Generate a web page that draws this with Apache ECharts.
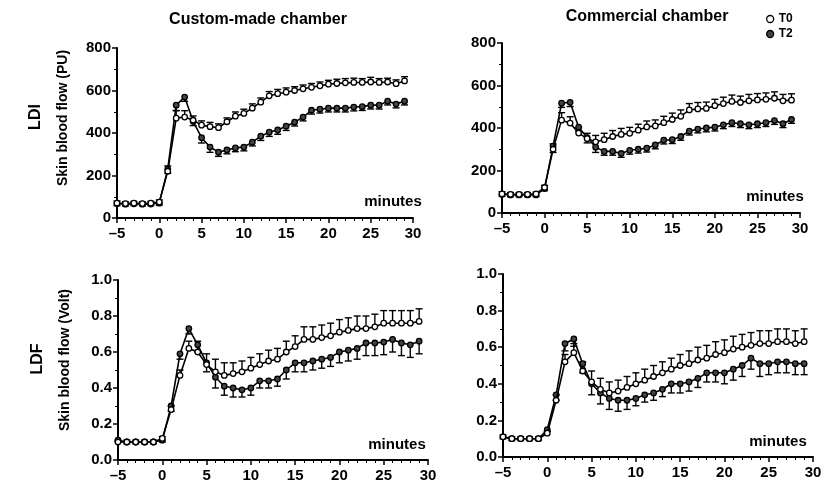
<!DOCTYPE html>
<html><head><meta charset="utf-8">
<script src="https://cdn.jsdelivr.net/npm/echarts@6/dist/echarts.min.js"></script>
<style>html,body{margin:0;padding:0;background:#fff}#c{width:827px;height:485px}</style>
</head><body><div id="c"></div>
<script>
const minutes = [-5,-4,-3,-2,-1,0,1,2,3,4,5,6,7,8,9,10,11,12,13,14,15,16,17,18,19,20,21,22,23,24,25,26,27,28,29];
const xTicks = [-5,0,5,10,15,20,25,30];

// LDI, custom-made chamber (PU)
const ldiCustomT0 = [70,68,70,68,70,75,220,470,475,460,437,430,425,453,479,492,517,545,575,585,592,600,608,615,622,630,633,636,638,638,640,638,640,632,645];
const ldiCustomT2 = [68,65,67,65,66,70,230,531,569,455,378,334,310,320,330,334,357,385,404,414,432,451,475,507,512,517,517,517,522,524,531,531,550,536,550];
const ldiCustomT0Err = [10,8,8,8,8,10,25,35,30,20,20,20,18,18,20,20,20,20,20,20,20,18,18,18,18,18,20,20,20,18,22,18,18,18,20];
const ldiCustomT2Err = [10,8,8,8,8,10,20,25,20,20,25,25,20,18,18,18,18,20,20,20,20,18,18,18,18,18,18,18,18,18,18,18,18,18,18];

// LDI, commercial chamber (PU)
const ldiCommT0 = [90,88,88,88,90,120,300,437,423,376,350,335,345,360,370,375,390,405,410,425,440,455,485,490,492,505,515,525,520,528,532,535,540,528,531];
const ldiCommT2 = [88,85,85,85,85,115,315,517,521,404,355,310,290,290,280,295,300,305,320,343,345,360,385,395,400,404,415,425,420,415,420,425,435,420,440];
const ldiCommT0Err = [10,8,8,8,8,10,25,35,30,25,25,30,30,28,28,28,28,28,28,30,30,30,30,30,30,30,30,30,30,30,30,30,30,30,30];
const ldiCommT2Err = [10,8,8,8,8,10,30,20,20,20,25,25,18,18,18,18,18,18,18,18,18,18,18,18,18,18,18,18,18,18,18,18,18,18,18];

// LDF, custom-made chamber (Volt)
const ldfCustomT0 = [0.10,0.10,0.10,0.10,0.10,0.12,0.28,0.47,0.62,0.60,0.53,0.49,0.47,0.48,0.49,0.51,0.53,0.55,0.56,0.60,0.63,0.67,0.67,0.68,0.69,0.71,0.72,0.73,0.73,0.74,0.76,0.76,0.76,0.76,0.77];
const ldfCustomT2 = [0.11,0.10,0.10,0.10,0.10,0.11,0.30,0.59,0.73,0.64,0.54,0.46,0.41,0.40,0.39,0.40,0.44,0.44,0.45,0.50,0.54,0.54,0.55,0.56,0.57,0.60,0.61,0.62,0.65,0.65,0.655,0.67,0.65,0.64,0.66];
const ldfCustomT0Err = [0.01,0.01,0.01,0.01,0.01,0.01,0.02,0.03,0.04,0.06,0.06,0.07,0.07,0.06,0.06,0.06,0.06,0.06,0.06,0.06,0.06,0.07,0.07,0.07,0.07,0.07,0.07,0.07,0.07,0.07,0.07,0.07,0.07,0.07,0.07];
const ldfCustomT2Err = [0.01,0.01,0.01,0.01,0.01,0.01,0.03,0.03,0.03,0.04,0.05,0.06,0.05,0.05,0.04,0.04,0.04,0.04,0.04,0.05,0.05,0.05,0.05,0.05,0.05,0.06,0.06,0.06,0.07,0.07,0.07,0.07,0.07,0.07,0.07];

// LDF, commercial chamber (Volt)
const ldfCommT0 = [0.11,0.10,0.10,0.10,0.10,0.13,0.31,0.52,0.57,0.47,0.41,0.37,0.35,0.36,0.38,0.40,0.42,0.44,0.46,0.48,0.50,0.51,0.53,0.54,0.56,0.57,0.59,0.60,0.61,0.62,0.62,0.63,0.63,0.62,0.63];
const ldfCommT2 = [0.11,0.10,0.10,0.10,0.10,0.15,0.34,0.62,0.645,0.51,0.40,0.35,0.32,0.31,0.31,0.32,0.34,0.35,0.37,0.40,0.40,0.41,0.43,0.46,0.46,0.46,0.48,0.50,0.54,0.51,0.51,0.52,0.52,0.51,0.51];
const ldfCommT0Err = [0.01,0.01,0.01,0.01,0.01,0.01,0.03,0.04,0.05,0.05,0.06,0.06,0.06,0.06,0.06,0.06,0.06,0.06,0.06,0.06,0.06,0.07,0.07,0.07,0.07,0.07,0.07,0.07,0.07,0.07,0.07,0.07,0.07,0.07,0.07];
const ldfCommT2Err = [0.01,0.01,0.01,0.01,0.01,0.01,0.03,0.04,0.04,0.05,0.06,0.06,0.06,0.06,0.05,0.04,0.04,0.04,0.04,0.05,0.05,0.05,0.05,0.05,0.05,0.06,0.06,0.06,0.06,0.07,0.06,0.06,0.06,0.06,0.06];

const FONT = 'Liberation Sans, Arial, sans-serif';
const grids = [
  {left:117, top:48, width:296, height:170},
  {left:502, top:43, width:298, height:170},
  {left:118, top:280, width:310, height:180},
  {left:503, top:274, width:310, height:183}
];
const panels = [
  {t0: ldiCustomT0, t2: ldiCustomT2, e0: ldiCustomT0Err, e2: ldiCustomT2Err},
  {t0: ldiCommT0, t2: ldiCommT2, e0: ldiCommT0Err, e2: ldiCommT2Err},
  {t0: ldfCustomT0, t2: ldfCustomT2, e0: ldfCustomT0Err, e2: ldfCustomT2Err},
  {t0: ldfCommT0, t2: ldfCommT2, e0: ldfCommT0Err, e2: ldfCommT2Err}
];

const axisLabelStyle = {color:'#000', fontFamily:FONT, fontWeight:'bold', fontSize:15};
const xAxes = grids.map((g,i)=>({
  type:'value', gridIndex:i, min:-5, max:30, interval:5,
  axisLine:{show:true, onZero:false, lineStyle:{color:'#000', width:2}},
  axisTick:{show:true, length:5, lineStyle:{color:'#000', width:1.5}},
  minorTick:{show:true, splitNumber:5, length:3, lineStyle:{color:'#000', width:1}},
  splitLine:{show:false},
  axisLabel:Object.assign({margin:8, formatter:v=> v<0 ? '\u2013'+(-v) : String(v)}, axisLabelStyle)
}));
const yAxes = grids.map((g,i)=>{
  const ldi = i<2;
  return {
    type:'value', gridIndex:i, min:0, max: ldi?800:1, interval: ldi?200:0.2,
    axisLine:{show:true, onZero:false, lineStyle:{color:'#000', width:2}},
    axisTick:{show:true, length:5, lineStyle:{color:'#000', width:1.5}},
    minorTick:{show:true, splitNumber:2, length:3, lineStyle:{color:'#000', width:1}},
    splitLine:{show:false},
    axisLabel:Object.assign({margin:6, formatter: v=> ldi ? String(v) : v.toFixed(1)}, axisLabelStyle)
  };
});

function errSeries(i, vals, errs, dir, name) {
  return {
    type:'custom', name:name, xAxisIndex:i, yAxisIndex:i, z:1,
    data: minutes.map((m,k)=>[m, vals[k], errs[k]]),
    encode:{x:0, y:1},
    silent:true,
    renderItem:(params, api)=>{
      const x=api.value(0), y=api.value(1), e=api.value(2);
      const p0=api.coord([x,y]);
      const p1=api.coord([x,y+dir*e]);
      const w=3.5;
      const st={stroke:'#000', lineWidth:1.4};
      return {type:'group', children:[
        {type:'line', shape:{x1:p0[0],y1:p0[1],x2:p1[0],y2:p1[1]}, style:st},
        {type:'line', shape:{x1:p1[0]-w,y1:p1[1],x2:p1[0]+w,y2:p1[1]}, style:st}
      ]};
    }
  };
}
function lineSeries(i, vals, name, filled) {
  return {
    type:'line', name:name, xAxisIndex:i, yAxisIndex:i, z: filled?3:4,
    data: minutes.map((m,k)=>[m, vals[k]]),
    symbol:'circle', symbolSize:5.5,
    lineStyle:{color:'#000', width:1.6},
    itemStyle:{color: filled?'#444':'#fff', borderColor:'#000', borderWidth:1.3},
    animation:false
  };
}
const series = [];
panels.forEach((p,i)=>{
  series.push(errSeries(i, p.t0, p.e0, 1, 'T0'));
  series.push(errSeries(i, p.t2, p.e2, -1, 'T2'));
  series.push(lineSeries(i, p.t2, 'T2', true));
  series.push(lineSeries(i, p.t0, 'T0', false));
});

const txt = (x,y,text,size,rot)=>({type:'text', x:x, y:y, rotation: rot||0,
  style:{text:text, fill:'#000', font:'bold '+size+'px '+FONT, textAlign:'center', textVerticalAlign:'middle'}});

const chart = echarts.init(document.getElementById('c'), null, {renderer:'canvas'});
chart.setOption({
  animation:false,
  backgroundColor:'#fff',
  grid: grids,
  xAxis: xAxes,
  yAxis: yAxes,
  legend:{
    orient:'vertical', left:761, top:8, itemGap:3, itemWidth:7, itemHeight:7,
    selectedMode:false,
    textStyle:{color:'#000', fontFamily:FONT, fontWeight:'bold', fontSize:12},
    data:[
      {name:'T0', icon:'circle', itemStyle:{color:'#fff', borderColor:'#000', borderWidth:1.3}},
      {name:'T2', icon:'circle', itemStyle:{color:'#444', borderColor:'#000', borderWidth:1.3}}
    ]
  },
  graphic:[
    txt(258,20,'Custom-made chamber',16),
    txt(647,17,'Commercial chamber',16),
    txt(36,117,'LDI',16,Math.PI/2),
    txt(63,118,'Skin blood flow (PU)',14,Math.PI/2),
    txt(38,359,'LDF',16,Math.PI/2),
    txt(65,360,'Skin blood flow (Volt)',14,Math.PI/2),
    txt(393,202,'minutes',15),
    txt(775,197,'minutes',15),
    txt(397,445,'minutes',15),
    txt(778,442,'minutes',15)
  ],
  series: series
});
</script></body></html>
